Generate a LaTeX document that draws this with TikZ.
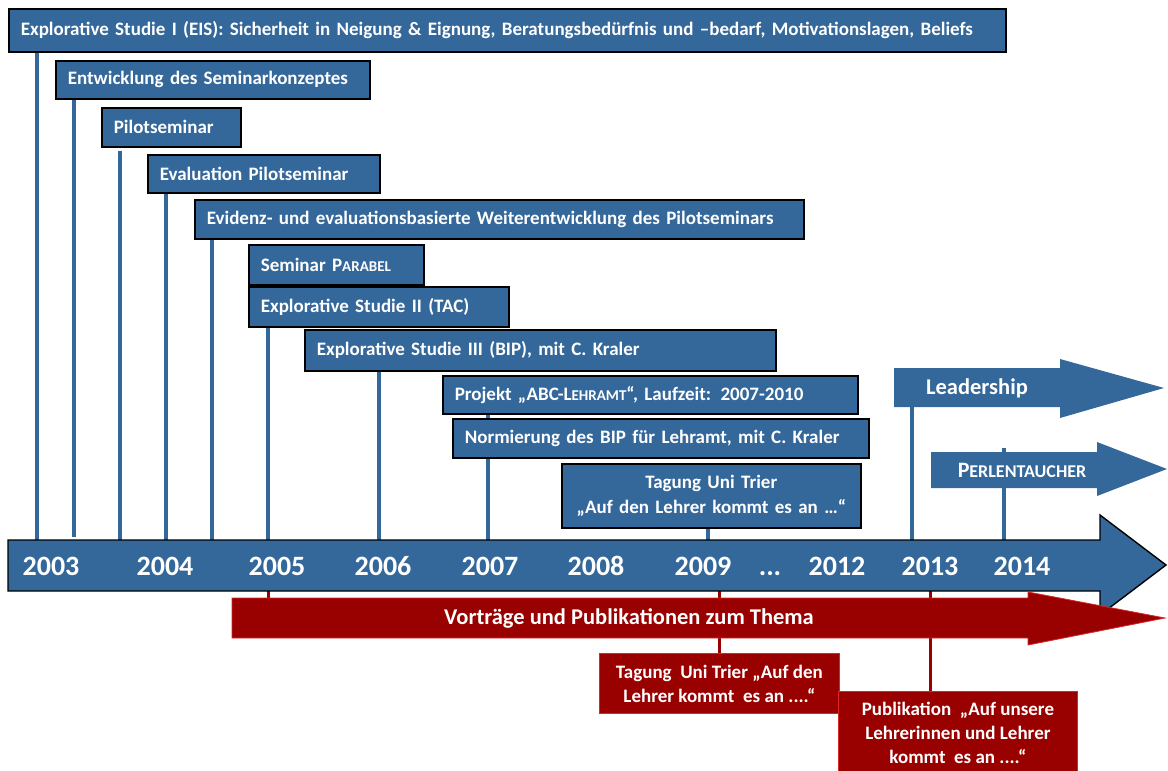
\documentclass[tikz,border=0pt]{standalone}
\usepackage{fontspec}
\setmainfont{Carlito}
\usetikzlibrary{backgrounds}
\definecolor{tlblue}{RGB}{52,103,154}
\definecolor{tlred}{RGB}{153,0,0}
\definecolor{tlredline}{RGB}{214,40,40}
% small capitals built from upper-case letters at a smaller size
\newcommand{\minicaps}[1]{{\fontsize{15}{17}\selectfont #1}}
\begin{document}
\begin{tikzpicture}[x=1pt,y=-1pt,
  tlbox/.style={draw=black, line width=1.6pt, fill=tlblue, text=white,
    font=\bfseries\fontsize{19}{22}\selectfont, anchor=north west,
    inner xsep=12pt, inner ysep=0pt, align=left},
  redbox/.style={draw=tlredline, line width=0.8pt, fill=tlred, text=white,
    font=\bfseries\fontsize{19}{24}\selectfont, anchor=north west,
    inner xsep=6pt, inner ysep=0pt, align=center},
  tlline/.style={draw=tlblue, line width=4pt},
  redline/.style={draw=tlred, line width=3pt},
  year/.style={text=white, font=\bfseries\fontsize{28}{30}\selectfont, inner sep=0pt, anchor=base},
  anchorbox/.style={anchor=north west, inner sep=0pt, outer sep=0pt}
]
\useasboundingbox (0,0) rectangle (1168,771);

% x positions of the drop lines
\coordinate (xa) at (37,0);
\coordinate (xb) at (74,0);
\coordinate (xc) at (120,0);
\coordinate (xd) at (166,0);
\coordinate (xe) at (212,0);
\coordinate (xf) at (268,0);
\coordinate (xg) at (379,0);
\coordinate (xh) at (488,0);
\coordinate (xi) at (708,0);
\coordinate (xj) at (912,0);
\coordinate (xk) at (1004,0);
\coordinate (xr) at (719,0);
\coordinate (xs) at (930,0);

% main time axis
\draw[fill=tlblue, draw=black, line width=1.4pt]
  (8,540) -- (1100,540) -- (1100,515) -- (1166,565) -- (1100,615) -- (1100,591) -- (8,591) -- cycle;
\node[anchorbox, minimum width=1092pt, minimum height=51pt] (bar) at (8,540) {};

% talks and publications arrow
\draw[fill=tlred, draw=tlredline, line width=0.8pt]
  (232,598) -- (1028,598) -- (1028,592) -- (1165,618) -- (1028,645) -- (1028,638) -- (232,638) -- cycle;
\node[anchorbox, minimum width=796pt, minimum height=40pt] (red) at (232,598) {};
\node[text=white, font=\bfseries\fontsize{22.5}{24}\selectfont] at (629,618) {Vorträge und Publikationen zum Thema};

% years
\node[year] at (51,575) {2003};
\node[year] at (165,575) {2004};
\node[year] at (277,575) {2005};
\node[year] at (383,575) {2006};
\node[year] at (490,575) {2007};
\node[year] at (596,575) {2008};
\node[year] at (703,575) {2009};
\node[year] at (770,575) {...};
\node[year] at (837,575) {2012};
\node[year] at (930,575) {2013};
\node[year] at (1022,575) {2014};

% project boxes
\node[tlbox, text width=973pt, minimum height=43pt] (eis) at (8,8)
  {Explorative Studie I (EIS): Sicherheit in Neigung \& Eignung, Beratungsbedürfnis und –bedarf, Motivationslagen, Beliefs};
\node[tlbox, text width=290pt, minimum height=38pt] (ent) at (55,60) {Entwicklung des Seminarkonzeptes};
\node[tlbox, text width=115pt, minimum height=39pt] (pil) at (101,107) {Pilotseminar};
\node[tlbox, text width=208pt, minimum height=38pt] (eva) at (147,154) {Evaluation Pilotseminar};
\node[tlbox, text width=585pt, minimum height=39pt] (evi) at (194,199) {Evidenz- und evaluationsbasierte Weiterentwicklung des Pilotseminars};
\node[tlbox, text width=151pt, minimum height=40pt] (par) at (248,244) {Seminar P\minicaps{ARABEL}};
\node[tlbox, text width=236pt, minimum height=40pt] (tac) at (248,286) {Explorative Studie II (TAC)};
\node[tlbox, text width=447pt, minimum height=41pt] (bip) at (304,329) {Explorative Studie III (BIP), mit C. Kraler};
\node[tlbox, text width=391pt, minimum height=38pt] (abc) at (442,375) {Projekt „ABC-L\minicaps{EHRAMT}“, Laufzeit: 2007-2010};
\node[tlbox, text width=392pt, minimum height=39pt] (nor) at (452,418) {Normierung des BIP für Lehramt, mit C. Kraler};
\node[tlbox, text width=275pt, minimum height=64pt, align=center, font=\bfseries\fontsize{19}{25}\selectfont] (tag) at (561,463)
  {Tagung Uni Trier\\„Auf den Lehrer kommt es an …“};

% ongoing strands
\draw[fill=tlblue, draw=none]
  (894,368) -- (1060,368) -- (1060,359) -- (1164,388) -- (1060,418) -- (1060,407) -- (894,407) -- cycle;
\node[anchorbox, minimum width=166pt, minimum height=39pt] (lead) at (894,368) {};
\node[text=white, font=\bfseries\fontsize{22.5}{24}\selectfont] at (977,388) {Leadership};
\draw[fill=tlblue, draw=none]
  (931,452) -- (1097,452) -- (1097,442) -- (1167,469) -- (1097,496) -- (1097,488) -- (931,488) -- cycle;
\node[anchorbox, minimum width=166pt, minimum height=36pt] (perl) at (931,452) {};
\node[text=white, font=\bfseries\fontsize{22}{24}\selectfont] at (1022,470) {P{\fontsize{18}{20}\selectfont ERLENTAUCHER}};

% conference and publication boxes
\node[redbox, minimum width=240pt, minimum height=60pt] (rtag) at (599,653)
  {Tagung\ \ Uni Trier „Auf den\\Lehrer kommt\ \ es an ....“};
\node[redbox, minimum width=239pt, minimum height=82pt] (rpub) at (838,691)
  {Publikation\ \ „Auf unsere\\Lehrerinnen und Lehrer\\kommt\ \ es an ....“};

\begin{scope}[on background layer]
  \draw[tlline] (eis.south -| xa) -- (bar.north -| xa);
  \draw[tlline] (ent.south -| xb) -- ([yshift=3pt]bar.north -| xb);
  \draw[tlline] ([yshift=-3pt]pil.south -| xc) -- (bar.north -| xc);
  \draw[tlline] (eva.south -| xd) -- (bar.north -| xd);
  \draw[tlline] (evi.south -| xe) -- (bar.north -| xe);
  \draw[tlline] (par.south -| xf) -- (bar.north -| xf);
  \draw[tlline] (bip.south -| xg) -- (bar.north -| xg);
  \draw[tlline] (abc.south -| xh) -- (bar.north -| xh);
  \draw[tlline] (tag.south -| xi) -- (bar.north -| xi);
  \draw[tlline] (lead.south -| xj) -- (bar.north -| xj);
  \draw[tlline] ([yshift=4pt]perl.north -| xk) -- (bar.north -| xk);
  \draw[redline] (bar.south -| xf) -- (red.north -| xf);
  \draw[redline] (bar.south -| xr) -- (rtag.north -| xr);
  \draw[redline] (bar.south -| xs) -- (rpub.north -| xs);
\end{scope}
\end{tikzpicture}
\end{document}
